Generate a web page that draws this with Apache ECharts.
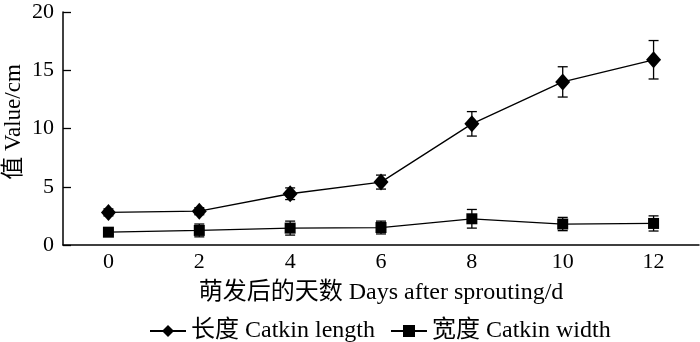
<!DOCTYPE html>
<html>
<head>
<meta charset="utf-8">
<script src="https://cdn.jsdelivr.net/npm/echarts@6/dist/echarts.min.js"></script>
<style>
  html, body { margin: 0; padding: 0; background: #fff; }
  #chart { width: 700px; height: 342px; }
</style>
</head>
<body>
<div id="chart"></div>
<script>
var days = ['0', '2', '4', '6', '8', '10', '12'];
var lengthMean = [2.8, 2.9, 4.4, 5.4, 10.4, 14.0, 15.9];
var lengthErr = [0.3, 0.3, 0.5, 0.6, 1.05, 1.3, 1.65];
var widthMean = [1.1, 1.25, 1.45, 1.5, 2.25, 1.8, 1.85];
var widthErr = [0.2, 0.55, 0.6, 0.55, 0.8, 0.57, 0.65];

var serif = '"Liberation Serif", "Times New Roman", "Noto Sans CJK SC", serif';

function errData(mean, err) {
  return mean.map(function (m, i) { return [i, m - err[i], m + err[i]]; });
}

function renderErr(params, api) {
  var lo = api.coord([api.value(0), api.value(1)]);
  var hi = api.coord([api.value(0), api.value(2)]);
  var w = 5;
  var st = { stroke: '#000', lineWidth: 1.3 };
  return {
    type: 'group',
    children: [
      { type: 'line', shape: { x1: lo[0], y1: lo[1], x2: hi[0], y2: hi[1] }, style: st },
      { type: 'line', shape: { x1: lo[0] - w, y1: lo[1], x2: lo[0] + w, y2: lo[1] }, style: st },
      { type: 'line', shape: { x1: hi[0] - w, y1: hi[1], x2: hi[0] + w, y2: hi[1] }, style: st }
    ]
  };
}

var chart = echarts.init(document.getElementById('chart'));
chart.setOption({
  animation: false,
  textStyle: { fontFamily: serif, color: '#000' },
  grid: { left: 63, right: 1, top: 12, bottom: 97, outerBoundsMode: 'none' },
  legend: {
    top: 314,
    left: 144,
    itemWidth: 36,
    itemHeight: 15,
    itemGap: 15,
    textStyle: { fontFamily: serif, fontSize: 24, color: '#000' },
    data: ['长度 Catkin length', '宽度 Catkin width']
  },
  graphic: [{
    type: 'text',
    x: 2,
    y: 122,
    rotation: Math.PI / 2,
    style: {
      text: '值 Value/cm',
      font: '23px ' + serif,
      fill: '#000',
      align: 'center',
      verticalAlign: 'top'
    }
  }],
  xAxis: {
    type: 'category',
    data: days,
    boundaryGap: true,
    name: '萌发后的天数 Days after sprouting/d',
    nameLocation: 'middle',
    nameGap: 36,
    nameTextStyle: { fontFamily: serif, fontSize: 24, color: '#000' },
    axisLine: { lineStyle: { color: '#000', width: 1.5 } },
    axisTick: { inside: true, length: 7, lineStyle: { color: '#000', width: 1.3 } },
    axisLabel: { fontFamily: serif, fontSize: 22, color: '#000', margin: 6 }
  },
  yAxis: {
    type: 'value',
    min: 0,
    max: 20,
    interval: 5,
    splitLine: { show: false },
    axisLine: { show: true, lineStyle: { color: '#000', width: 1.5 } },
    axisTick: { show: true, inside: true, length: 8, lineStyle: { color: '#000', width: 1.3 } },
    axisLabel: { fontFamily: serif, fontSize: 22, color: '#000', margin: 9 }
  },
  series: [
    {
      name: '长度 Catkin length',
      type: 'line',
      data: lengthMean,
      symbol: 'diamond',
      symbolSize: [15, 17],
      itemStyle: { color: '#000' },
      lineStyle: { color: '#000', width: 1.3 },
      z: 3
    },
    {
      name: '宽度 Catkin width',
      type: 'line',
      data: widthMean,
      symbol: 'rect',
      symbolSize: 11,
      itemStyle: { color: '#000' },
      lineStyle: { color: '#000', width: 1.3 },
      z: 3
    },
    {
      type: 'custom',
      renderItem: renderErr,
      data: errData(lengthMean, lengthErr),
      z: 2,
      silent: true
    },
    {
      type: 'custom',
      renderItem: renderErr,
      data: errData(widthMean, widthErr),
      z: 2,
      silent: true
    }
  ]
});
</script>
</body>
</html>
